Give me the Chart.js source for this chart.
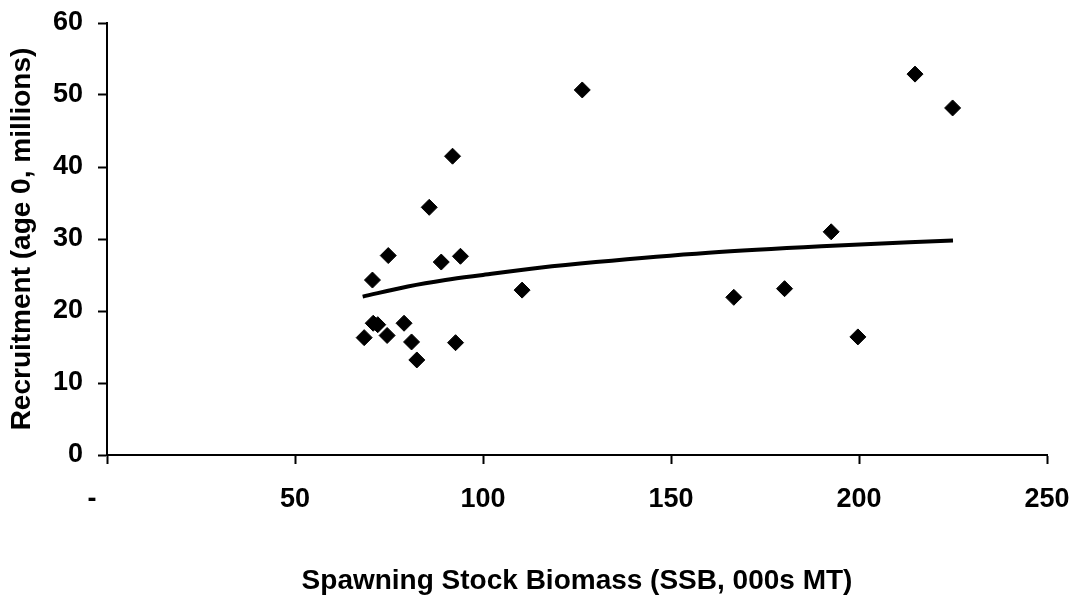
<!DOCTYPE html>
<html>
<head>
<meta charset="utf-8">
<script src="https://cdn.jsdelivr.net/npm/chart.js@4"></script>
<style>
  html, body { margin: 0; padding: 0; background: #fff; }
  #wrap { width: 1079px; height: 603px; }
</style>
</head>
<body>
<div id="wrap"><canvas id="grafico" width="1079" height="603"></canvas></div>
<script>
// ===============================
// DATOS
// ===============================
const ssb = [68.4, 70.6, 70.8, 72.0, 74.5, 74.8, 79.0, 81.0, 82.4, 85.7, 88.9, 91.9, 92.7, 94.0, 110.4, 126.4, 166.7, 180.2, 192.6, 199.7, 214.9, 224.9];
const reclutas = [16.3, 24.3, 18.3, 18.1, 16.6, 27.7, 18.3, 15.7, 13.2, 34.4, 26.8, 41.5, 15.6, 27.6, 22.9, 50.7, 21.9, 23.1, 31.0, 16.4, 52.9, 48.2];

// curva ajustada
const curvaX = [68, 80, 90, 100, 115, 130, 160, 190, 225];
const curvaY = [22.0, 23.4, 24.3, 25.0, 26.0, 26.8, 28.1, 29.0, 29.8];

const xTicks = [0, 50, 100, 150, 200, 250];
const yTicks = [0, 10, 20, 30, 40, 50, 60];

const fuente = { family: "'Liberation Sans', Arial, sans-serif", size: 27, weight: "bold" };
const fuenteTitulo = { family: "'Liberation Sans', Arial, sans-serif", size: 28, weight: "bold" };

new Chart(document.getElementById("grafico"), {
  type: "scatter",
  data: {
    datasets: [
      {
        label: "Observado",
        data: ssb.map((x, i) => ({ x: x, y: reclutas[i] })),
        pointStyle: "rectRot",
        pointRadius: 8,
        pointHoverRadius: 8,
        backgroundColor: "#000",
        borderColor: "#000",
        borderWidth: 1,
        showLine: false,
      },
      {
        label: "Ajuste",
        data: curvaX.map((x, i) => ({ x: x, y: curvaY[i] })),
        showLine: true,
        pointRadius: 0,
        borderColor: "#000",
        borderWidth: 4,
        cubicInterpolationMode: "monotone",
        fill: false,
      },
    ],
  },
  options: {
    responsive: false,
    animation: false,
    layout: { padding: { top: 23, right: 32, left: 0, bottom: 0 } },
    plugins: { legend: { display: false }, tooltip: { enabled: false } },
    scales: {
      x: {
        type: "linear",
        min: 0,
        max: 250,
        afterBuildTicks: (s) => { s.ticks = xTicks.map((v) => ({ value: v })); },
        afterFit: (s) => {
          s.height = 148;
          s.paddingLeft = 0;
          s.paddingRight = 0;
        },
        border: { display: true, color: "#000", width: 2 },
        grid: { drawOnChartArea: false, drawTicks: true, tickLength: 9, tickColor: "#000", tickWidth: 2 },
        ticks: {
          color: "#000",
          font: fuente,
          padding: 19,
          maxRotation: 0,
          // formato contable: el cero sale como "-" corrido a la izquierda
          callback: (v) => (v === 0 ? "-    " : v),
        },
        title: {
          display: true,
          text: "Spawning Stock Biomass (SSB, 000s MT)",
          color: "#000",
          font: fuenteTitulo,
          padding: { top: 0, bottom: 5 },
        },
      },
      y: {
        type: "linear",
        min: 0,
        max: 60,
        afterBuildTicks: (s) => { s.ticks = yTicks.map((v) => ({ value: v })); },
        afterFit: (s) => {
          s.width = 107;
          s.paddingTop = 0;
          s.paddingBottom = 0;
        },
        border: { display: true, color: "#000", width: 2 },
        grid: { drawOnChartArea: false, drawTicks: true, tickLength: 9, tickColor: "#000", tickWidth: 2 },
        ticks: { color: "#000", font: fuente, padding: 15 },
        title: {
          display: true,
          text: "Recruitment (age 0, millions)",
          color: "#000",
          font: fuenteTitulo,
          padding: { top: 5, bottom: 0 },
        },
      },
    },
  },
});
</script>
</body>
</html>
